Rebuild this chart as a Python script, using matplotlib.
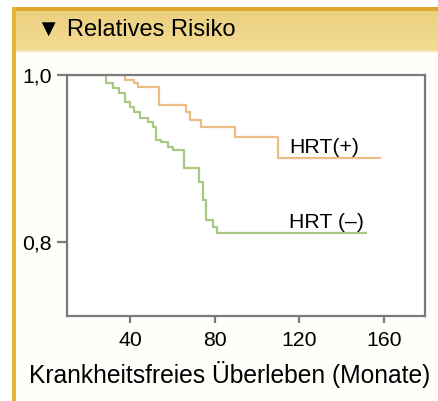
import matplotlib
matplotlib.use("Agg")
import matplotlib.pyplot as plt
from matplotlib.patches import Rectangle
import numpy as np

plt.rcParams['font.family'] = ['Liberation Sans', 'DejaVu Sans']

# ---- data ----
title = "▼ Relatives Risiko"
xlabel = "Krankheitsfreies Überleben (Monate)"
x_ticks = [40, 80, 120, 160]
y_ticks = [0.8, 1.0]
y_ticklabels = ["0,8", "1,0"]

hrt_neg_label = "HRT (–)"
hrt_neg_t = [28.4, 31.9, 35.0, 37.4, 39.8, 42.1, 44.5, 48.4, 50.8, 52.4, 54.7,
             57.9, 60.2, 65.7, 72.8, 74.4, 76.1, 79.0, 81.3]
hrt_neg_s = [0.990, 0.984, 0.978, 0.968, 0.962, 0.956, 0.948, 0.944, 0.938, 0.922,
             0.920, 0.914, 0.910, 0.889, 0.872, 0.850, 0.826, 0.818, 0.810]
hrt_neg_end = 151.7

hrt_pos_label = "HRT(+)"
hrt_pos_t = [37.4, 42.1, 43.7, 53.9, 66.5, 68.1, 73.6, 89.4, 109.7]
hrt_pos_s = [0.994, 0.990, 0.986, 0.964, 0.956, 0.946, 0.938, 0.926, 0.900]
hrt_pos_end = 158.3

W, H = 438, 401
fig = plt.figure(figsize=(W / 100, H / 100), dpi=100)
fig.patch.set_facecolor('white')

# background / frame decoration in pixel coords
bg = fig.add_axes([0, 0, 1, 1], zorder=-10)
bg.set_xlim(0, W)
bg.set_ylim(H, 0)
bg.axis('off')
bg.add_patch(Rectangle((13, 7), W - 13, H - 7, color='#fffefa', lw=0))
# header gradient
n = 40
for i in range(n):
    y0 = 10 + i * (40 / n)
    f = i / (n - 1)
    c = np.array([0.925, 0.815, 0.50]) * (1 - f) + np.array([0.945, 0.855, 0.57]) * f
    bg.add_patch(Rectangle((13, y0), W - 13, 40 / n + 0.5, color=c, lw=0))
for i, c in enumerate(['#f3e2ab', '#f8eccb', '#fcf6e6']):
    bg.add_patch(Rectangle((13, 50 + i), W - 13, 1, color=c, lw=0))
bg.add_patch(Rectangle((13, 7), W - 13, 3.5, color='#e0a82a', lw=0))
bg.add_patch(Rectangle((12, 7), 3.5, H - 7, color='#e8b33a', lw=0))

fig.text(37 / W, 1 - 30 / H, title, fontsize=17, va='center', ha='left', color='black')

ax = fig.add_axes([67 / W, 1 - 316 / H, (425 - 67) / W, (316 - 75) / H])
ax.set_facecolor('white')

def steps(t, s, end):
    x = [10.2] + list(t) + [end]
    y = [1.0] + list(s) + [s[-1]]
    return x, y

x, y = steps(hrt_neg_t, hrt_neg_s, hrt_neg_end)
ax.plot(x, y, drawstyle='steps-post', color='#a9c882', lw=1.6, zorder=2)
x, y = steps(hrt_pos_t, hrt_pos_s, hrt_pos_end)
ax.plot(x, y, drawstyle='steps-post', color='#ecbc84', lw=1.6, zorder=2)

ax.text(115.3, 0.9126, hrt_pos_label, fontsize=15.3, va='center', ha='left')
ax.text(115.3, 0.8228, hrt_neg_label, fontsize=15.3, va='center', ha='left')

ax.set_xlim(10.2, 179.4)
ax.set_ylim(0.711, 1.0)
ax.set_xticks(x_ticks)
ax.set_xticklabels([str(v) for v in x_ticks], fontsize=15.3)
ax.set_yticks(y_ticks)
ax.set_yticklabels(y_ticklabels, fontsize=15.3)
for sp in ax.spines.values():
    sp.set_color('#7a7a7a')
    sp.set_linewidth(1.6)
    sp.set_zorder(3)
ax.tick_params(axis='y', direction='out', length=7, width=1.6, color='#7a7a7a', pad=4)
ax.tick_params(axis='x', direction='out', length=5, width=1.6, color='#7a7a7a', pad=6)

fig.text(230 / W, 1 - 374 / H, xlabel, fontsize=17.7, ha='center', va='center')

fig.savefig('out.png', dpi=100)
